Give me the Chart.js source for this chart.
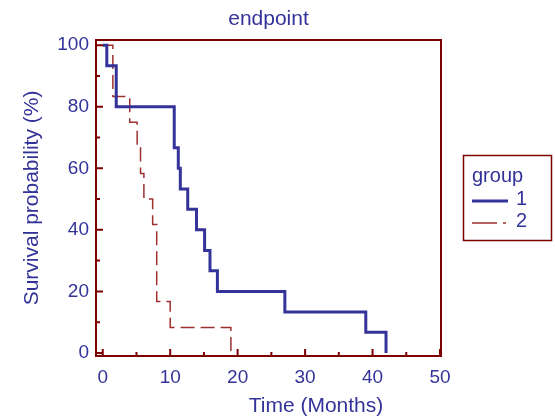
<!DOCTYPE html>
<html>
<head>
<meta charset="utf-8">
<script src="https://cdn.jsdelivr.net/npm/chart.js@4/dist/chart.umd.min.js"></script>
<style>
  html, body { margin: 0; padding: 0; background: #ffffff; }
  #wrap { width: 555px; height: 416px; }
</style>
</head>
<body>
<div id="wrap"><canvas id="kmChart" width="555" height="416"></canvas></div>
<script>
/* =====================================================
   DATA
===================================================== */

const chartTitle = "endpoint";
const xTitle = "Time (Months)";
const yTitle = "Survival probability (%)";
const legendTitle = "group";
const groupNames = ["1", "2"];

const group1Times = [0, 0.6, 2.0, 10.6, 11.2, 11.5, 12.6, 13.9, 15.1, 15.9, 17.0, 27.0, 39.0, 42.0];
const group1Surv  = [100, 93.3, 80, 66.7, 60, 53.3, 46.7, 40, 33.3, 26.7, 20, 13.3, 6.7, 0];

const group2Times = [0, 1.5, 4.0, 5.1, 5.6, 6.1, 7.4, 8.0, 10.0, 19.0];
const group2Surv  = [100, 83.3, 75, 66.7, 58.3, 50, 41.7, 16.7, 8.3, 0];

const xTicks = [0, 10, 20, 30, 40, 50];
const xMinorTicks = [5, 15, 25, 35, 45];
const yTicks = [0, 20, 40, 60, 80, 100];
const yMinorTicks = [10, 30, 50, 70, 90];


/* =====================================================
   COLOURS & FONT
===================================================== */

const textBlue = "#333399";
const lineBlue = "#333399";
const lineRed  = "#9e3030";
const frameRed = "#7d0000";
const fontFamily = "'Liberation Sans', Arial, sans-serif";


function toPoints(times, values){
  return times.map((t, i) => ({ x: t, y: values[i] }));
}


/* =====================================================
   PLUGIN: RAM, TICKS, TITLAR, LEGEND
===================================================== */

const framePlugin = {
  id: "frame",
  afterDatasetsDraw(chart){
    const c = chart.ctx;
    const a = chart.chartArea;
    const xs = chart.scales.x;
    const ys = chart.scales.y;

    c.save();
    c.strokeStyle = frameRed;
    c.lineWidth = 2;
    c.strokeRect(a.left, a.top, a.right - a.left, a.bottom - a.top);

    // inward tick marks
    c.beginPath();
    yTicks.forEach(v => {
      const py = ys.getPixelForValue(v);
      c.moveTo(a.left, py); c.lineTo(a.left + 7, py);
    });
    yMinorTicks.forEach(v => {
      const py = ys.getPixelForValue(v);
      c.moveTo(a.left, py); c.lineTo(a.left + 4, py);
    });
    xTicks.forEach(v => {
      const px = xs.getPixelForValue(v);
      c.moveTo(px, a.bottom); c.lineTo(px, a.bottom - 7);
    });
    xMinorTicks.forEach(v => {
      const px = xs.getPixelForValue(v);
      c.moveTo(px, a.bottom); c.lineTo(px, a.bottom - 4);
    });
    c.stroke();

    c.fillStyle = textBlue;
    c.textAlign = "center";
    c.textBaseline = "middle";

    // chart title, centred on the plot area
    c.font = "21px " + fontFamily;
    c.fillText(chartTitle, (a.left + a.right) / 2, 19);

    // x axis title (sits right of centre in the original)
    c.fillText(xTitle, 316, 406);

    // legend box
    c.strokeStyle = frameRed;
    c.lineWidth = 1.5;
    c.strokeRect(463.5, 155.5, 88, 85);

    c.font = "20px " + fontFamily;
    c.textAlign = "left";
    c.fillText(legendTitle, 472, 176);

    c.fillText(groupNames[0], 516, 199);
    c.fillText(groupNames[1], 516, 221);

    c.strokeStyle = lineBlue;
    c.lineWidth = 3;
    c.beginPath();
    c.moveTo(472, 201); c.lineTo(508, 201);
    c.stroke();

    c.strokeStyle = lineRed;
    c.lineWidth = 1.5;
    c.beginPath();
    c.moveTo(472, 223); c.lineTo(497, 223);
    c.moveTo(503, 223); c.lineTo(506, 223);
    c.stroke();

    c.restore();
  }
};


/* =====================================================
   GRAF
===================================================== */

const ctx = document.getElementById("kmChart").getContext("2d");

new Chart(ctx, {
  type: "line",
  data: {
    datasets: [
      {
        label: groupNames[0],
        data: toPoints(group1Times, group1Surv),
        stepped: "before",
        borderColor: lineBlue,
        borderWidth: 3,
        pointRadius: 0,
        fill: false
      },
      {
        label: groupNames[1],
        data: toPoints(group2Times, group2Surv),
        stepped: "before",
        borderColor: lineRed,
        borderWidth: 1.5,
        borderDash: [14, 6],
        pointRadius: 0,
        fill: false
      }
    ]
  },
  options: {
    responsive: false,
    animation: false,
    devicePixelRatio: 1,
    layout: {
      padding: { left: 0, right: 114, top: 40, bottom: 0 }
    },
    plugins: {
      legend: { display: false },
      tooltip: { enabled: false },
      title: { display: false }
    },
    scales: {
      x: {
        type: "linear",
        min: -1,
        max: 50.15,
        afterBuildTicks: scale => {
          scale.ticks = xTicks.map(v => ({ value: v }));
        },
        afterFit: scale => { scale.height = 60; },
        grid: { display: false, drawTicks: false },
        border: { display: false },
        ticks: {
          color: textBlue,
          padding: 10,
          maxRotation: 0,
          font: { family: fontFamily, size: 19 }
        },
        title: { display: false }
      },
      y: {
        type: "linear",
        min: -1,
        max: 101.7,
        afterBuildTicks: scale => {
          scale.ticks = yTicks.map(v => ({ value: v }));
        },
        afterFit: scale => { scale.width = 96; },
        grid: { display: false, drawTicks: false },
        border: { display: false },
        ticks: {
          color: textBlue,
          padding: 7,
          font: { family: fontFamily, size: 19 }
        },
        title: {
          display: true,
          text: yTitle,
          color: textBlue,
          font: { family: fontFamily, size: 21, lineHeight: 1.2 },
          padding: { top: 20, bottom: 0 }
        }
      }
    }
  },
  plugins: [framePlugin]
});
</script>
</body>
</html>
